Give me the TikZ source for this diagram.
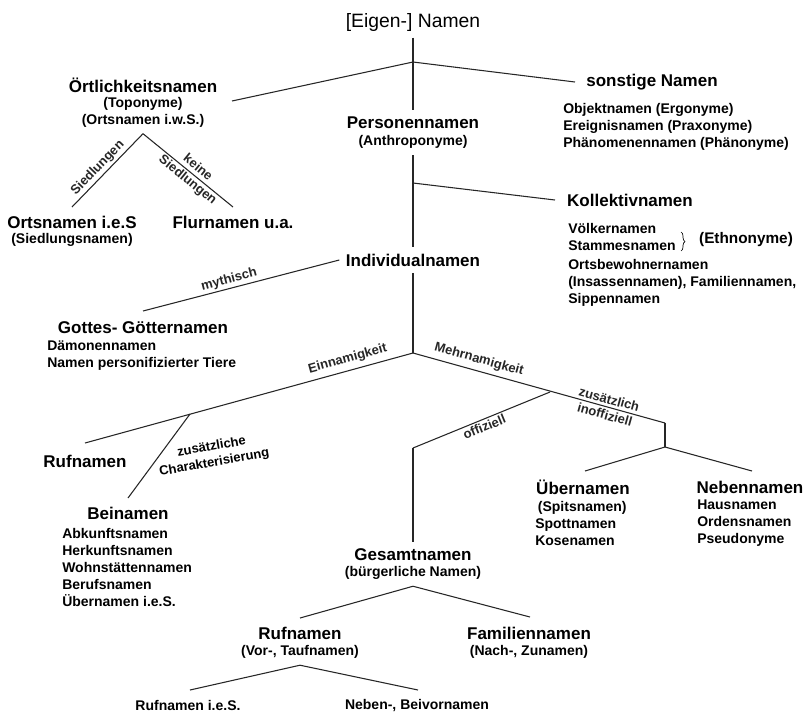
\documentclass[tikz,border=0pt]{standalone}
\usepackage{fontspec}
\setmainfont{Liberation Sans}
\usetikzlibrary{decorations.pathreplacing}

\tikzset{
  title/.style={font=\fontsize{14.5}{17}\selectfont, inner sep=2pt, outer sep=3pt},
  head/.style={font=\bfseries\fontsize{12.75}{15}\selectfont, inner sep=2pt, outer sep=3pt},
  sub/.style={font=\bfseries\fontsize{10.5}{12.75}\selectfont, align=center, inner sep=2pt, outer sep=3pt},
  list/.style={font=\bfseries\fontsize{10.5}{12.75}\selectfont, align=left, anchor=west, inner sep=0pt},
  lab/.style={font=\bfseries\fontsize{9.75}{12}\selectfont, align=center, inner sep=1.5pt},
  branch/.style={line width=0.8pt, black!85}
}

\begin{document}
\begin{tikzpicture}[x=0.75pt, y=-0.75pt]
\useasboundingbox (0, 0) rectangle (805, 715);

\node[title] (namen) at (413, 22) {[Eigen-] Namen};
\node[head] (oertl) at (143, 85) {Örtlichkeitsnamen};
\node[sub] (oertlsub) at (143, 112) {(Toponyme)\\(Ortsnamen i.w.S.)};
\node[head] (sonst) at (652, 82) {sonstige Namen};
\node[list] (sonstlist) at (563, 127) {Objektnamen (Ergonyme)\\Ereignisnamen (Praxonyme)\\Phänomenennamen (Phänonyme)};
\node[head] (pers) at (413, 123) {Personennamen};
\node[sub] (perssub) at (413, 142) {(Anthroponyme)};
\node[head] (ortsies) at (72, 222) {Ortsnamen i.e.S};
\node[sub] (ortsiessub) at (72, 240) {(Siedlungsnamen)};
\node[head] (flur) at (233, 222) {Flurnamen u.a.};
\node[head] (koll) at (630, 200) {Kollektivnamen};
\node[list] (voelk) at (568, 237) {Völkernamen\\Stammesnamen};
\node[sub, font=\bfseries\fontsize{11.5}{13}\selectfont] (ethno) at (746, 240) {(Ethnonyme)};
\node[list] (ortsbew) at (568, 283) {Ortsbewohnernamen\\(Insassennamen), Familiennamen,\\Sippennamen};
\node[head] (indiv) at (413, 260) {Individualnamen};
\node[head] (goetter) at (143, 328) {Gottes- Götternamen};
\node[list] (goetterlist) at (47, 356) {Dämonennamen\\Namen personifizierter Tiere};
\node[head] (rufein) at (85, 461) {Rufnamen};
\node[head] (bei) at (128, 513) {Beinamen};
\node[list] (beilist) at (62, 567) {Abkunftsnamen\\Herkunftsnamen\\Wohnstättennamen\\Berufsnamen\\Übernamen i.e.S.};
\node[head] (ueber) at (583, 487) {Übernamen};
\node[list] (ueberlist) at (535, 523) {\hspace*{2pt}(Spitsnamen)\\Spottnamen\\Kosenamen};
\node[head] (neben) at (750, 487) {Nebennamen};
\node[list] (nebenlist) at (697, 523) {Hausnamen\\Ordensnamen\\Pseudonyme};
\node[head] (gesamt) at (413, 555) {Gesamtnamen};
\node[sub] (gesamtsub) at (413, 573) {(bürgerliche Namen)};
\node[head] (ruf) at (300, 633) {Rufnamen};
\node[sub] (rufsub) at (300, 652) {(Vor-, Taufnamen)};
\node[head] (fam) at (529, 633) {Familiennamen};
\node[sub] (famsub) at (529, 652) {(Nach-, Zunamen)};
\node[sub] (rufies) at (188, 705) {Rufnamen i.e.S.};
\node[sub] (nebenvor) at (417, 705) {Neben-, Beivornamen};

\coordinate (j1) at (413, 62);
\coordinate (j2) at (413, 183);
\coordinate (j4) at (413, 353);
\coordinate (j5) at (413, 448);
\coordinate (j6) at (190, 414);
\coordinate (j7) at (665, 423);
\coordinate (j8) at (550, 392);
\coordinate (j9) at (665, 447);
\coordinate (e1) at (232, 101);
\coordinate (e2) at (575, 82);
\coordinate (e3) at (72, 207);
\coordinate (e4) at (233, 207);
\coordinate (e5) at (555, 200);
\coordinate (e7) at (143, 311);
\coordinate (e8) at (85, 443);
\coordinate (e9) at (128, 498);
\coordinate (e10) at (585, 471);
\coordinate (e11) at (752, 471);
\coordinate (e12) at (300, 618);
\coordinate (e13) at (530, 617);
\coordinate (e14) at (190, 690);
\coordinate (e15) at (418, 690);

\draw[branch] (namen) -- (pers);
\draw[branch] (j1) -- (e1);
\draw[branch] (j1) -- (e2);
\draw[branch] (oertlsub.south) -- (e3) node[lab, sloped, pos=0.55, above] (siedl) {Siedlungen};
\draw[branch] (oertlsub.south) -- (e4) node[lab, sloped, pos=0.55] (keine) {keine\\Siedlungen};
\draw[branch] (perssub) -- (indiv);
\draw[branch] (j2) -- (e5);
\draw[decorate, decoration={brace, amplitude=3pt}, line width=0.5pt] (681, 232) -- (681, 251);
\draw[branch] (indiv.west) -- (e7) node[lab, sloped, pos=0.55, above] (myth) {mythisch};
\draw[branch] (indiv) -- (j4);
\draw[branch] (j4) -- (e8) node[lab, sloped, pos=0.19, above=2pt] (einn) {Einnamigkeit};
\draw[branch] (j6) -- (e9);
\node[lab, rotate=10] (charakt) at (213, 455) {zusätzliche\\Charakterisierung};
\draw[branch] (j4) -- (j7) node[lab, sloped, pos=0.25, above=2pt] (mehrn) {Mehrnamigkeit} node[lab, sloped, pos=0.77] (inoff) {zusätzlich\\inoffiziell};
\draw[branch] (j8) -- (j5) node[lab, sloped, midway, below] (offiz) {offiziell};
\draw[branch] (j5) -- (gesamt);
\draw[branch] (j7) -- (j9);
\draw[branch] (j9) -- (e10);
\draw[branch] (j9) -- (e11);
\draw[branch] (gesamtsub.south) -- (e12);
\draw[branch] (gesamtsub.south) -- (e13);
\draw[branch] (rufsub.south) -- (e14);
\draw[branch] (rufsub.south) -- (e15);
\end{tikzpicture}
\end{document}
